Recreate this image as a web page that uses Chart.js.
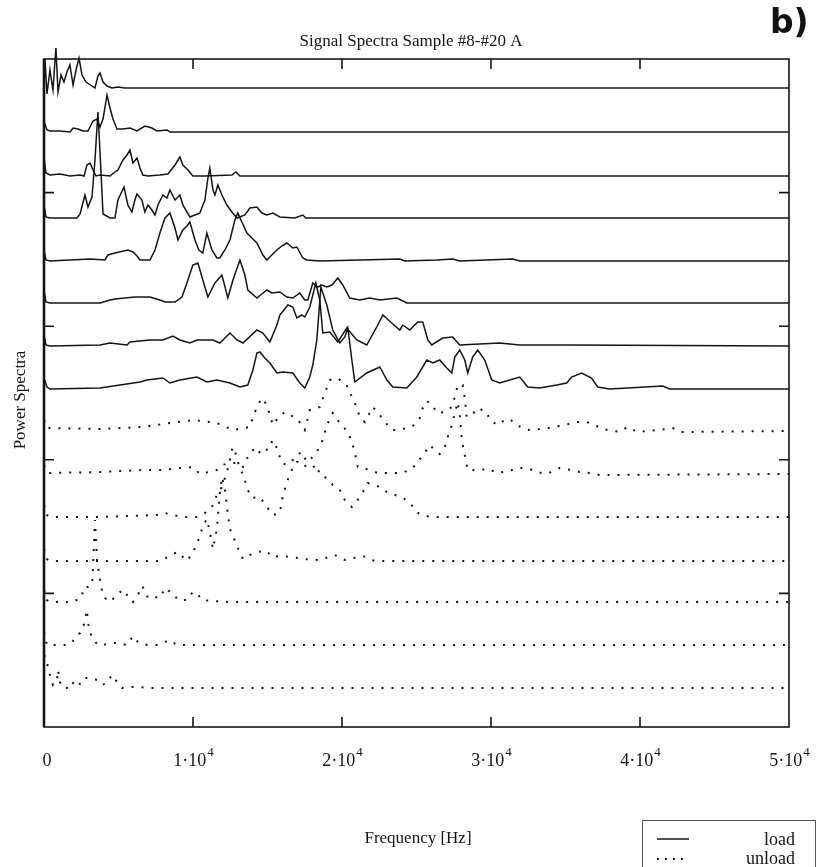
<!DOCTYPE html>
<html>
<head>
<meta charset="utf-8">
<script src="https://cdn.jsdelivr.net/npm/chart.js@4/dist/chart.umd.min.js"></script>
<style>
body{margin:0;background:#fff;}
#wrap{position:relative;width:820px;height:867px;}
#tag{position:absolute;left:770px;top:2px;font:bold 33px "DejaVu Sans";color:#111;}
</style>
</head>
<body>
<div id="wrap">
<canvas id="chart" width="820" height="867"></canvas>
<div id="tag">b)</div>
</div>
<script>
// frequency axis ticks [Hz] and power axis ticks (arbitrary units)
const freqTicks = [0, 10000, 20000, 30000, 40000, 50000];
const powerTicks = [0, 13.36, 26.72, 40.08, 53.44, 66.8];

// waterfall offset of each spectrum, bottom to top
const offsets = [3.9, 8.2, 12.5, 16.6, 21.0, 25.3, 29.6, 33.8, 38.1, 42.4, 46.6, 50.9, 55.1, 59.5, 63.9];

// unload spectra (dotted), bottom to top: [Hz, power]
const unload1 = [[0,3.3],[200,2.8],[270,1.8],[400,1.3],[600,0.3],[870,0.8],[940,1.8],[1070,0.6],[1270,0],[1540,0],[1740,0.6],[1950,0.5],[2280,0.1],[2620,1.0],[3220,1.0],[3560,0.8],[3890,0.3],[4230,0.5],[4560,1.3],[4900,0.6],[5230,0],[5630,0.1],[6240,0.1],[7110,0],[50000,0]];
const unload2 = [[0,1.3],[200,0],[870,0],[1410,0],[1880,0.2],[2080,0.8],[2420,1.2],[2620,1.7],[2750,2.5],[2880,3.5],[2950,2.2],[3220,0.7],[3620,0],[3960,0],[4430,0.2],[4900,0.2],[5570,0],[5970,0.9],[6300,0.3],[6910,0],[7580,0],[8450,0.5],[8920,0],[50000,0]];
const unload3 = [[0,1.2],[200,0.2],[400,0],[1950,0],[2550,0.5],[2620,1.4],[2950,1.5],[3220,1.7],[3290,3.5],[3420,8.2],[3560,4.2],[3760,2.2],[3890,1.2],[4090,0.4],[4430,0],[4760,0.5],[5100,1.0],[5430,1.2],[5630,0.5],[5970,0],[6300,0.7],[6570,1.6],[6770,1.2],[6980,0.4],[7450,0.5],[7780,0.4],[8120,1.4],[8450,1.0],[8650,0.9],[8990,0.2],[9590,0.2],[9990,1.0],[10260,0.9],[10600,0.2],[11340,0.1],[12480,0],[50000,0]];
const unload4 = [[0,1.2],[200,0.2],[400,0],[3760,0],[7780,0],[8320,0.4],[8650,0.7],[8990,0.9],[9320,0.4],[9590,0],[9930,0.7],[10260,1.7],[10460,2.5],[10660,3.5],[10930,4.2],[11130,2.9],[11340,1.2],[11600,3.2],[11800,6.7],[11940,8.4],[12140,7.2],[12340,4.7],[12480,3.2],[12680,2.5],[12950,1.5],[13350,0.2],[13820,0.6],[14290,0.9],[14960,1.0],[15290,0.4],[15830,0.5],[16700,0.4],[17370,0.2],[18510,0.1],[19520,0.6],[20190,0.1],[21400,0.5],[22200,0],[50000,0]];
const unload5 = [[0,1.2],[200,0.2],[400,0],[3760,0],[7580,0.2],[8120,0.4],[8650,0.2],[9320,0],[10260,0],[10800,0.4],[11270,1.0],[11600,2.2],[11940,3.0],[12140,3.9],[12410,5.2],[12610,6.7],[12740,7.0],[13010,5.5],[13480,3.7],[13680,2.7],[13950,1.9],[14490,2.0],[14960,1.0],[15360,0.2],[15830,0.4],[16030,2.2],[16300,3.4],[16500,4.4],[16970,5.5],[17370,5.5],[17640,4.9],[17970,4.9],[18310,5.2],[18510,4.2],[18980,3.9],[19380,3.2],[19850,2.7],[20190,1.7],[20660,1.0],[21060,1.7],[21400,2.5],[21730,3.4],[22200,3.2],[22670,2.9],[23070,2.4],[23540,2.2],[24010,2.0],[24550,1.4],[25080,0.4],[25890,0],[50000,0]];
const unload6 = [[0,0.9],[200,0.2],[400,0.1],[3760,0.2],[6640,0.4],[7980,0.4],[9120,0.6],[9990,0.7],[10460,0],[11600,0.4],[11940,0.9],[12480,1.1],[13010,1.1],[13350,0.7],[13680,1.7],[14020,2.4],[14350,1.9],[14620,2.6],[15020,2.4],[15360,3.4],[15630,2.6],[15960,1.1],[16300,0.9],[16700,1.4],[16970,1.9],[17300,2.2],[17640,1.2],[18040,1.7],[18380,2.4],[18710,3.4],[18980,4.9],[19380,6.1],[19850,5.1],[20390,4.2],[20660,3.2],[20860,2.2],[21060,0.7],[21400,0.6],[21860,0.4],[22400,0.1],[23010,0.1],[23410,0.1],[24010,0.1],[24680,0.5],[25080,1.2],[25550,2.1],[25890,2.9],[26220,2.4],[26560,2.0],[26900,2.7],[27100,3.7],[27370,4.9],[27570,6.1],[27770,7.2],[27900,5.9],[28040,3.4],[28240,1.9],[28440,0.4],[29110,0.4],[29910,0.5],[30380,0.1],[31260,0.3],[31720,0.6],[32400,0.6],[32930,0.3],[33600,0],[34070,0.2],[34610,0.6],[35410,0.4],[35950,0.2],[36620,0.1],[37290,-0.1],[50000,0]];
const unload7 = [[0,1.1],[200,0.3],[400,0.3],[3760,0.2],[6640,0.4],[8450,0.8],[9990,1.1],[11600,0.8],[12680,0.1],[13820,0.4],[14020,1.4],[14290,2.4],[14620,3.3],[14960,2.6],[15160,1.6],[15360,0.6],[15690,1.3],[16160,1.9],[16500,1.6],[16970,1.3],[17500,0.1],[17840,2.1],[18510,2.4],[18850,3.8],[19180,5.1],[19650,5.3],[20190,4.8],[20520,4.1],[20660,3.3],[20990,2.4],[21190,1.4],[21530,0.9],[21860,1.8],[22070,2.4],[22540,1.6],[22940,0.8],[23340,0.1],[23880,0.1],[24350,0.3],[24880,0.6],[25220,1.3],[25420,2.3],[25690,3.0],[26020,2.7],[26360,1.8],[26900,1.9],[27370,2.4],[27570,3.4],[27770,4.6],[28100,4.6],[28240,3.3],[28370,1.4],[28710,1.6],[29110,2.3],[29710,1.9],[29910,1.1],[30450,0.6],[30920,1.1],[31260,1.2],[31720,0.6],[32400,0.1],[33400,0.2],[34610,0.5],[35820,0.9],[36420,0.9],[36820,0.7],[37490,0.2],[38630,-0.1],[39170,0.4],[39840,-0.1],[41790,0.2],[42190,0.3],[42790,-0.1],[50000,0]];

// load spectra (solid), bottom to top: [Hz, power]
const load1 = [[0,1.1],[200,0.2],[400,0],[3760,0.1],[6440,0.7],[6910,0.9],[7980,1.1],[8450,0.6],[9120,0.9],[10260,1.2],[10930,0.7],[11600,0.9],[12480,0.6],[13150,0.2],[13680,0.4],[14020,1.9],[14290,3.6],[14490,3.7],[14820,3.1],[15160,2.6],[15630,1.6],[16030,1.7],[16700,1.6],[17170,0.6],[17500,0.1],[17840,1.2],[18040,2.4],[18310,4.9],[18580,10.2],[18980,8.4],[19380,5.9],[19850,4.6],[20190,5.2],[20390,6.1],[20660,2.9],[20860,0.7],[21660,1.6],[22540,2.2],[23010,0.9],[23410,0.2],[24350,0.1],[25020,1.2],[25690,2.9],[26090,2.6],[26560,2.9],[27030,2.1],[27370,1.6],[27570,3.2],[27900,3.9],[28240,2.9],[28440,1.6],[28770,3.2],[29110,3.9],[29580,2.9],[30050,0.9],[30580,0.6],[31260,0.9],[31930,1.2],[32460,0.2],[33270,0.1],[34410,0.4],[35080,0.6],[35410,1.2],[36080,1.6],[36750,1.1],[37160,0.2],[37960,0],[41520,0.3],[41990,0],[50000,0]];
const load2 = [[0,1.1],[130,0.1],[400,0],[3760,0.1],[4430,0.3],[5570,0.1],[5770,0.4],[7110,0.6],[7980,0.6],[8650,1.0],[9120,0.6],[9790,0.3],[10260,0.6],[11340,0.6],[11800,0.3],[12480,1.3],[12950,0.6],[13350,0.3],[14290,1.6],[14690,1.3],[15160,0.4],[15630,2.1],[15830,3.1],[16370,4.1],[16700,3.9],[16970,2.8],[17300,3.1],[17500,2.9],[17840,3.9],[18040,5.1],[18240,6.3],[18510,4.6],[18710,1.3],[19180,1.4],[19720,0.4],[20320,1.8],[20990,0.6],[21660,0.1],[22330,1.9],[22740,3.1],[23340,2.3],[23880,1.6],[24080,2.1],[24550,1.6],[25080,2.4],[25420,2.4],[25760,0.6],[26020,0.1],[26760,0.8],[27430,0.9],[27900,0.1],[30580,0.3],[31930,0.1],[35080,0.1],[50000,0]];
const load3 = [[0,1.3],[130,0.1],[400,0],[3760,0],[4430,0.3],[4760,0.4],[5430,0.5],[6100,0.6],[7110,0.6],[7780,0.3],[8120,0.1],[8790,0.1],[9260,0.6],[9590,2.0],[9990,3.8],[10330,4.0],[10660,2.3],[11000,0.6],[11470,2.0],[11940,2.8],[12340,0.5],[12680,2.3],[13150,4.3],[13480,2.8],[13680,1.3],[14290,0.5],[14620,0.9],[14960,1.3],[15290,1.0],[15830,1.1],[16300,0.6],[16700,0.5],[17170,1.0],[17500,0.3],[17710,0.3],[18040,2.0],[18380,1.6],[18650,1.8],[18980,1.6],[19320,1.8],[19720,2.5],[20050,1.8],[20520,0.5],[21190,0.3],[21860,0.5],[22540,0.3],[23680,0.5],[24350,0],[50000,0]];
const load4 = [[0,1.1],[130,0.1],[400,0],[1740,0.1],[3090,0.2],[4090,0.1],[4290,0.6],[4760,0.8],[5630,1.1],[5970,0.9],[6240,0.5],[6440,0.1],[7110,0.1],[7450,1.1],[7780,2.8],[8120,4.3],[8450,4.8],[8790,3.3],[8990,2.1],[9320,3.1],[9590,3.5],[9790,3.9],[10130,2.1],[10390,1.1],[10660,0.8],[10930,2.8],[11270,1.1],[11600,0.3],[11800,0.3],[12140,1.1],[12480,2.1],[12810,4.1],[13010,4.8],[13280,3.9],[13620,2.8],[13950,2.3],[14290,1.8],[14690,0.6],[14960,0.1],[15290,0.6],[15630,1.1],[15960,1.5],[16300,1.8],[16700,1.3],[16970,1.4],[17370,0.3],[17640,0.1],[18510,0],[23880,0.2],[24210,0],[26360,0.1],[27430,0.2],[27900,0],[31460,0.2],[31930,0],[50000,0]];
const load5 = [[0,1.3],[130,0.1],[400,0],[1070,0],[2210,0],[2420,0.4],[2750,2.3],[2950,1.1],[3220,2.1],[3420,5.8],[3620,10.6],[3820,4.8],[3960,0.4],[4430,0],[4760,0],[4960,1.8],[5370,3.1],[5630,1.3],[5900,0.6],[6100,1.8],[6240,2.4],[6570,1.8],[6770,0.6],[6980,1.3],[7240,0.8],[7450,0.3],[7650,1.3],[7980,2.3],[8250,2.0],[8450,2.8],[8790,1.8],[9120,2.3],[9320,1.3],[9790,0.1],[10130,0.3],[10460,0.5],[10800,1.8],[11000,4.0],[11130,5.0],[11340,2.8],[11470,2.3],[11670,3.3],[11940,2.3],[12270,1.3],[12610,0.6],[12950,0],[13480,0.3],[13820,1.0],[14290,1.1],[14620,0.5],[14960,0.3],[15360,0.5],[15830,0.1],[16830,0],[17370,0.3],[17570,0],[50000,0]];
const load6 = [[0,1.8],[130,0.3],[400,0.1],[1070,0.2],[1740,0],[2420,0.1],[2690,0],[2880,1.1],[3090,1.3],[3290,0.6],[3490,0],[3760,0.1],[4430,0],[4760,0.4],[4960,0.6],[5300,1.6],[5570,2.1],[5770,2.6],[5970,1.3],[6240,1.8],[6440,0.8],[6640,0.1],[6980,0],[7780,0.1],[8320,0.2],[8790,1.1],[9120,1.9],[9320,1.1],[9660,0.6],[9990,0],[10800,0],[12610,0.1],[12880,0.4],[13150,0],[50000,0]];
const load7 = [[0,1.1],[200,0.2],[400,0.1],[1070,0.1],[1740,0],[1950,0.4],[2280,0.3],[2620,0.1],[2950,0.1],[3290,1.1],[3560,1.3],[3760,0.5],[3960,1.3],[4230,3.7],[4430,2.4],[4630,1.3],[4900,0.3],[5300,0.3],[5770,0.4],[6240,0.1],[6770,0.6],[7240,0.4],[7580,0.1],[8250,0.2],[8450,0],[50000,0]];
const load8 = [[0,0],[70,2.8],[200,-0.6],[400,1.8],[600,-0.2],[800,4.0],[940,-0.4],[1140,1.3],[1340,0.6],[1540,1.6],[1740,2.3],[1950,0.3],[2150,1.8],[2350,3.0],[2550,1.3],[2820,0.6],[3020,0.4],[3220,0.2],[3420,0],[3620,1.2],[3760,1.5],[3960,0.6],[4230,0.2],[4560,0],[4960,0.1],[5430,0],[50000,0]];

const unloads = [unload1, unload2, unload3, unload4, unload5, unload6, unload7];
const loads = [load1, load2, load3, load4, load5, load6, load7, load8];

const ink = "#141414";
const serif = '"Liberation Serif", "Times New Roman", serif';

function makeSet(pts, off, dotted, top){
    return {
        data: pts.map(p => ({x: p[0], y: off + p[1]})),
        borderColor: ink,
        borderWidth: dotted ? 2 : 1.5,
        borderDash: dotted ? [2, 8] : [],
        pointRadius: 0,
        tension: 0,
        showLine: true,
        clip: top ? false : 0
    };
}

const sets = [];
unloads.forEach((s, i) => sets.push(makeSet(s, offsets[i], true, false)));
loads.forEach((s, i) => sets.push(makeSet(s, offsets[i + 7], false, i === 7)));

function supLabel(ctx, v, cx, y){
    if(v === 0){
        ctx.font = `18px ${serif}`;
        ctx.textAlign = "center";
        ctx.fillText("0", cx + 3, y);
        return;
    }
    const base = (v / 10000) + "\u00b710";
    ctx.font = `18px ${serif}`;
    const w1 = ctx.measureText(base).width;
    ctx.font = `13px ${serif}`;
    const w2 = ctx.measureText("4").width;
    const left = cx - (w1 + w2) / 2;
    ctx.textAlign = "left";
    ctx.font = `18px ${serif}`;
    ctx.fillText(base, left, y);
    ctx.font = `13px ${serif}`;
    ctx.fillText("4", left + w1 + 1, y - 10);
}

const frame = {
    id: "frame",
    afterDatasetsDraw(chart){
        const {ctx, chartArea: a, scales: {x, y}} = chart;
        ctx.save();
        ctx.strokeStyle = ink;
        ctx.fillStyle = ink;
        ctx.lineWidth = 1.6;
        ctx.strokeRect(a.left, a.top, a.right - a.left, a.bottom - a.top);
        ctx.lineWidth = 2.6;
        ctx.beginPath();
        ctx.moveTo(a.left, a.top); ctx.lineTo(a.left, a.bottom);
        ctx.stroke();
        ctx.lineWidth = 1.6;

        ctx.beginPath();
        freqTicks.slice(1, -1).forEach(v => {
            const px = x.getPixelForValue(v);
            ctx.moveTo(px, a.top); ctx.lineTo(px, a.top + 10);
            ctx.moveTo(px, a.bottom); ctx.lineTo(px, a.bottom - 10);
        });
        powerTicks.slice(1, -1).forEach(v => {
            const py = y.getPixelForValue(v);
            ctx.moveTo(a.left, py); ctx.lineTo(a.left + 10, py);
            ctx.moveTo(a.right, py); ctx.lineTo(a.right - 10, py);
        });
        ctx.stroke();

        ctx.textBaseline = "alphabetic";
        freqTicks.forEach(v => supLabel(ctx, v, x.getPixelForValue(v), a.bottom + 39));

        ctx.textAlign = "center";
        ctx.font = `17px ${serif}`;
        ctx.fillText("Signal Spectra Sample #8-#20 A", 411, 46);
        ctx.fillText("Frequency [Hz]", 418, 843);

        ctx.save();
        ctx.translate(25, 400);
        ctx.rotate(-Math.PI / 2);
        ctx.fillText("Power Spectra", 0, 0);
        ctx.restore();

        // legend box
        ctx.lineWidth = 1;
        ctx.strokeStyle = "#555";
        ctx.strokeRect(642.5, 820.5, 173, 60);
        ctx.strokeStyle = ink;
        ctx.lineWidth = 1.5;
        ctx.beginPath();
        ctx.moveTo(657, 839); ctx.lineTo(689, 839);
        ctx.stroke();
        ctx.lineWidth = 2;
        ctx.setLineDash([2, 6]);
        ctx.beginPath();
        ctx.moveTo(657, 859); ctx.lineTo(689, 859);
        ctx.stroke();
        ctx.setLineDash([]);
        ctx.textAlign = "right";
        ctx.font = `18px ${serif}`;
        ctx.fillText("load", 795, 845);
        ctx.fillText("unload", 795, 864);
        ctx.restore();
    }
};

new Chart(document.getElementById("chart"), {
    type: "scatter",
    data: {datasets: sets},
    options: {
        responsive: false,
        animation: false,
        layout: {padding: {left: 44, right: 31, top: 59, bottom: 140}},
        plugins: {legend: {display: false}, tooltip: {enabled: false}},
        scales: {
            x: {type: "linear", min: 0, max: 50000, display: false},
            y: {type: "linear", min: 0, max: 66.8, display: false}
        }
    },
    plugins: [frame]
});
</script>
</body>
</html>
